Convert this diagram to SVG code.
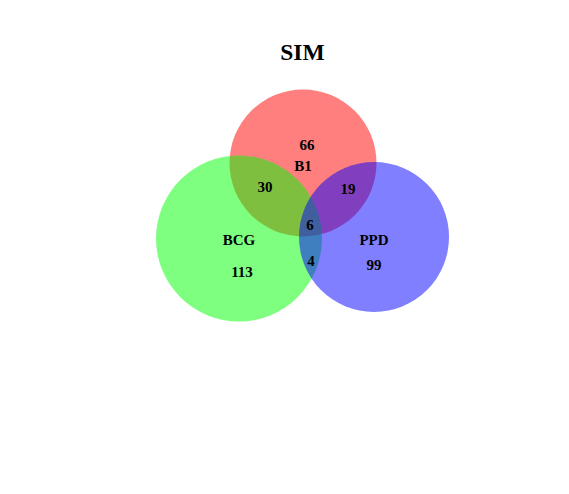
<svg xmlns="http://www.w3.org/2000/svg" width="569" height="494" viewBox="0 0 569 494">
<style>
.c{fill-opacity:0.5;stroke:none}
.t{font-family:"Liberation Serif","Times New Roman",serif;font-weight:bold;font-size:15px;text-anchor:middle;fill:#000}
.title{font-family:"Liberation Serif","Times New Roman",serif;font-weight:bold;font-size:23.5px;text-anchor:middle;fill:#000}
</style>
<rect width="569" height="494" fill="#fff"/>
<text class="title" x="302.5" y="59.5">SIM</text>
<g id="B1"><circle class="c" cx="303" cy="163" r="73.5" fill="#FF0000"/></g>
<g id="BCG"><circle class="c" cx="239" cy="238.5" r="83" fill="#00FF00"/></g>
<g id="PPD"><circle class="c" cx="374" cy="237" r="75" fill="#0000FF"/></g>
<g id="connectors"></g>
<g id="labels">
<text class="t" x="307" y="150">66</text>
<text class="t" x="303" y="171">B1</text>
<text class="t" x="265" y="192">30</text>
<text class="t" x="348" y="194">19</text>
<text class="t" x="310" y="230">6</text>
<text class="t" x="239" y="245">BCG</text>
<text class="t" x="374" y="245">PPD</text>
<text class="t" x="242" y="277">113</text>
<text class="t" x="311" y="266">4</text>
<text class="t" x="374" y="270">99</text>
</g>
</svg>
